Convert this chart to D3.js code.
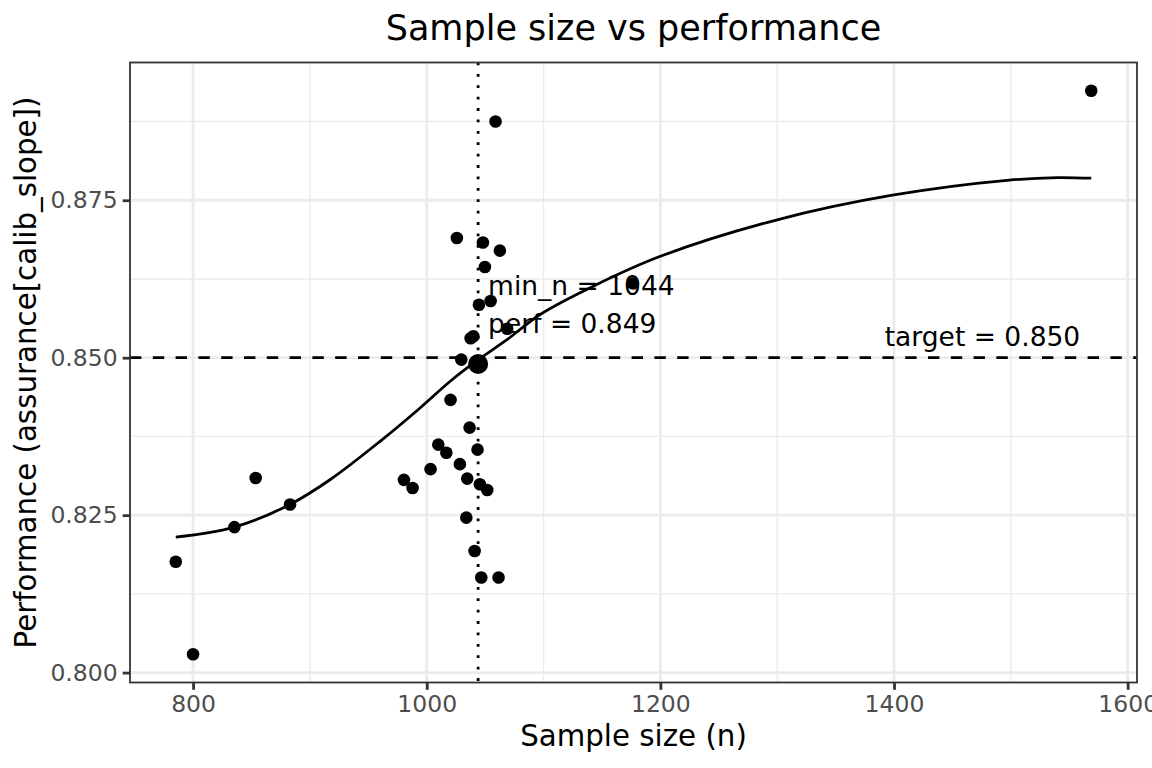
<!DOCTYPE html>
<html>
<head>
<meta charset="utf-8">
<script src="https://cdn.jsdelivr.net/npm/d3@7/dist/d3.min.js"></script>
<style>
  body { margin: 0; background: #fff; }
  svg { display: block; font-family: "DejaVu Sans", sans-serif; }
</style>
</head>
<body>
<svg id="chart" width="1152" height="768"></svg>
<script>
// simulated sample sizes and their performance
const sampleSizes = [785.2, 800, 835.4, 853.6, 883.0, 980.5, 987.9, 1003.3, 1009.9, 1016.8,
  1020.4, 1028.4, 1025.8, 1029.6, 1034.7, 1033.9, 1036.7, 1037.6, 1039.9, 1041.0,
  1043.5, 1044.7, 1045.5, 1046.7, 1048.1, 1049.8, 1051.8, 1054.7, 1058.9, 1061.5,
  1062.6, 1068.9, 1176.5, 1568.8];
const performance = [0.8176, 0.8029, 0.8231, 0.8309, 0.8267, 0.8306, 0.8293, 0.8323, 0.8362, 0.8349,
  0.8433, 0.8331, 0.8690, 0.8497, 0.8308, 0.8246, 0.8389, 0.8531, 0.8534, 0.8193,
  0.8354, 0.8584, 0.8299, 0.8151, 0.8683, 0.8644, 0.8290, 0.8590, 0.8875, 0.8151,
  0.8670, 0.8546, 0.8618, 0.8924];

// fitted curve
const fitN = [785.2, 835.4, 883, 917.8, 960.6, 994.8, 1020.4, 1043.5, 1069, 1097.4,
  1143, 1200, 1300, 1398.6, 1498.7, 1540, 1568.8];
const fitPerf = [0.8215, 0.8231, 0.8267, 0.8307, 0.8368, 0.8421, 0.8463, 0.8496, 0.8529, 0.8569,
  0.8614, 0.8661, 0.8719, 0.8758, 0.8782, 0.8786, 0.8785];

const xTicks = [800, 1000, 1200, 1400, 1600];
const yTicks = [0.800, 0.825, 0.850, 0.875];

const minN = 1044;
const minPerf = 0.849;
const target = 0.850;

const svg = d3.select("#chart");
const W = 1152, H = 768;
const margin = { top: 62.5, right: 15, bottom: 85.5, left: 130 };
const pw = W - margin.left - margin.right;
const ph = H - margin.top - margin.bottom;

// ggplot style 5% expansion
const expand = (ext) => {
  const pad = (ext[1] - ext[0]) * 0.05;
  return [ext[0] - pad, ext[1] + pad];
};

const x = d3.scaleLinear().domain(expand(d3.extent(sampleSizes))).range([0, pw]);
const y = d3.scaleLinear().domain(expand(d3.extent(performance))).range([ph, 0]);

const minors = (ticks, scale) => {
  const step = ticks[1] - ticks[0];
  const dom = scale.domain();
  const out = [];
  for (let v = ticks[0] - step / 2; v <= dom[1]; v += step) {
    if (v >= dom[0]) out.push(v);
  }
  return out;
};

const g = svg.append("g").attr("transform", `translate(${margin.left},${margin.top})`);

// grid
const grid = g.append("g");
grid.selectAll(".xminor").data(minors(xTicks, x)).join("line")
  .attr("x1", (d) => x(d)).attr("x2", (d) => x(d)).attr("y1", 0).attr("y2", ph)
  .attr("stroke", "#EBEBEB").attr("stroke-width", 1.4);
grid.selectAll(".yminor").data(minors(yTicks, y)).join("line")
  .attr("y1", (d) => y(d)).attr("y2", (d) => y(d)).attr("x1", 0).attr("x2", pw)
  .attr("stroke", "#EBEBEB").attr("stroke-width", 1.4);
grid.selectAll(".xmajor").data(xTicks).join("line")
  .attr("x1", (d) => x(d)).attr("x2", (d) => x(d)).attr("y1", 0).attr("y2", ph)
  .attr("stroke", "#EBEBEB").attr("stroke-width", 2.8);
grid.selectAll(".ymajor").data(yTicks).join("line")
  .attr("y1", (d) => y(d)).attr("y2", (d) => y(d)).attr("x1", 0).attr("x2", pw)
  .attr("stroke", "#EBEBEB").attr("stroke-width", 2.8);

// points
g.append("g").selectAll("circle")
  .data(sampleSizes.map((n, i) => ({ n, p: performance[i] })))
  .join("circle")
  .attr("cx", (d) => x(d.n))
  .attr("cy", (d) => y(d.p))
  .attr("r", 6.3)
  .attr("fill", "#000");

// fitted line
const fit = fitN.map((n, i) => ({ n, p: fitPerf[i] }));
g.append("path")
  .datum(fit)
  .attr("fill", "none")
  .attr("stroke", "#000")
  .attr("stroke-width", 2.8)
  .attr("d", d3.line().x((d) => x(d.n)).y((d) => y(d.p)).curve(d3.curveCatmullRom.alpha(0.5)));

// target and min_n lines
g.append("line")
  .attr("x1", 0).attr("x2", pw).attr("y1", y(target)).attr("y2", y(target))
  .attr("stroke", "#000").attr("stroke-width", 2.8)
  .attr("stroke-dasharray", "11.4,11.4");
g.append("line")
  .attr("x1", x(minN)).attr("x2", x(minN)).attr("y1", 0).attr("y2", ph)
  .attr("stroke", "#000").attr("stroke-width", 2.8)
  .attr("stroke-dasharray", "2.8,8.6");

g.append("circle")
  .attr("cx", x(minN)).attr("cy", y(minPerf)).attr("r", 10).attr("fill", "#000");

// annotations
const annoSize = "26.5px";
g.append("text")
  .attr("x", x(minN) + 10).attr("y", y(0.8599))
  .attr("font-size", annoSize).attr("fill", "#000")
  .text(`min_n = ${minN}`);
g.append("text")
  .attr("x", x(minN) + 10).attr("y", y(0.8540))
  .attr("font-size", annoSize).attr("fill", "#000")
  .text(`perf = ${minPerf.toFixed(3)}`);
g.append("text")
  .attr("x", x(d3.max(sampleSizes)) - 11).attr("y", y(target) - 11.5)
  .attr("text-anchor", "end")
  .attr("font-size", annoSize).attr("fill", "#000")
  .text(`target = ${target.toFixed(3)}`);

// border
g.append("rect")
  .attr("x", 0).attr("y", 0).attr("width", pw).attr("height", ph)
  .attr("fill", "none").attr("stroke", "#333333").attr("stroke-width", 1.8);

// axes
const xAxis = g.append("g")
  .attr("transform", `translate(0,${ph})`)
  .call(d3.axisBottom(x).tickValues(xTicks).tickSize(7.3).tickPadding(6).tickFormat(d3.format("d")));
const yAxis = g.append("g")
  .call(d3.axisLeft(y).tickValues(yTicks).tickSize(7.3).tickPadding(5).tickFormat(d3.format(".3f")));

[xAxis, yAxis].forEach((ax) => {
  ax.select(".domain").remove();
  ax.selectAll(".tick line").attr("stroke", "#333333").attr("stroke-width", 2.8);
  ax.selectAll(".tick text")
    .attr("fill", "#4D4D4D")
    .attr("font-size", "23.5px")
    .attr("font-family", "DejaVu Sans, sans-serif");
});

// titles
svg.append("text")
  .attr("x", margin.left + pw / 2).attr("y", 40)
  .attr("text-anchor", "middle")
  .attr("font-size", "35px").attr("fill", "#000")
  .text("Sample size vs performance");

svg.append("text")
  .attr("x", margin.left + pw / 2).attr("y", 746)
  .attr("text-anchor", "middle")
  .attr("font-size", "29.3px").attr("fill", "#000")
  .text("Sample size (n)");

svg.append("text")
  .attr("transform", `translate(36,${margin.top + ph / 2}) rotate(-90)`)
  .attr("text-anchor", "middle")
  .attr("font-size", "29.3px").attr("fill", "#000")
  .text("Performance (assurance[calib_slope])");
</script>
</body>
</html>
